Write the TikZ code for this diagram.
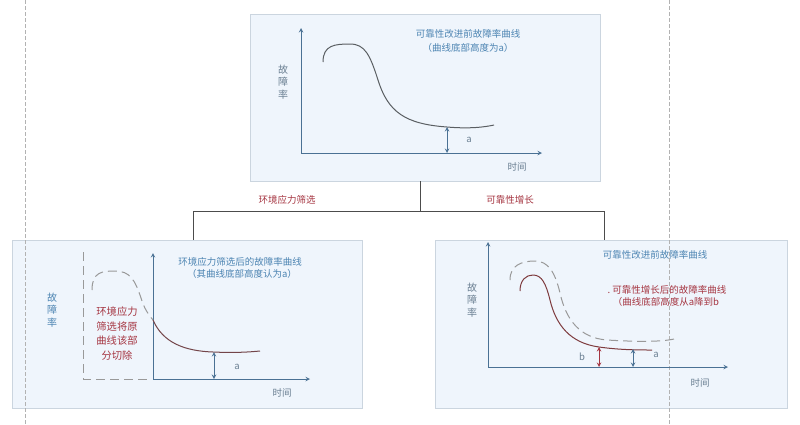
\documentclass[tikz,border=0pt]{standalone}
\usepackage{fontspec}
\newfontfamily\cjk{Noto Sans CJK SC}
\usepackage{tikz}
\usetikzlibrary{positioning}
\usepackage{xcolor}
\definecolor{panelfill}{HTML}{EFF5FC}
\definecolor{paneledge}{HTML}{CBD5DF}
\definecolor{axisblue}{HTML}{4A7194}
\definecolor{textblue}{HTML}{4C84B2}
\definecolor{textgray}{HTML}{6A7F92}
\definecolor{textred}{HTML}{A53541}
\definecolor{curvegray}{HTML}{5A5E62}
\definecolor{curvered}{HTML}{7E3B3E}

\begin{document}
\begin{tikzpicture}[x=1pt,y=-1pt,>=stealth,
  panel/.style={draw=paneledge,fill=panelfill,line width=0.8pt,
    minimum width=350pt,minimum height=168pt,inner sep=0pt},
  link/.style={draw=black!70,line width=0.7pt},
  guide/.style={draw=black!30,line width=0.6pt,dash pattern=on 4pt off 2pt},
  axis/.style={->,draw=axisblue,line width=1pt},
  curve/.style={draw=curvegray,line width=1pt},
  cut/.style={draw=black!40,line width=1pt,dash pattern=on 9pt off 5pt},
  gap/.style={<->,draw=axisblue,line width=1pt},
  lbl/.style={font=\cjk\fontsize{9.5}{12}\selectfont,inner sep=0pt,align=center},
  ylbl/.style={font=\cjk\fontsize{10}{12.5}\selectfont,inner sep=0pt,align=center}]
  \useasboundingbox (0,0) rectangle (800,424);
  \node[panel,minimum height=167pt] (top) at (425,97.5) {};
  \node[panel] (lft) at (187,324) {};
  \node[panel,minimum width=352pt] (rgt) at (611,324) {};
  %tree
  \coordinate (j) at (420,211);
  \coordinate (jl) at (193,211);
  \coordinate (jr) at (604,211);
  \draw[link] (j |- top.south) -- (j);
  \draw[link] (jl |- lft.north) -- (jl) -- (jr) -- (jr |- rgt.north);
  \node[lbl,textred] (screen) at (287,200) {环境应力筛选};
  \node[lbl,textred] (growth) at (510,200) {可靠性增长};
  \foreach \x in {25,669}
  \draw[guide] (\x,0) -- (\x,424);
  %before
  \coordinate (o1) at (301,153);
  \draw[axis] (o1) -- (301,28);
  \draw[axis] (o1) -- (542,153);
  \draw[curve] (323,62) .. controls (323,45) and (335,44) .. (350,44)
        .. controls (365,44) and (370,55) .. (378,80)
        .. controls (388,112) and (405,124) .. (447,127)
        .. controls (470,129) and (485,127) .. (494,125);
  \draw[gap] (447,127) -- (447,153);
  \node[lbl,textgray] (a1) at (469,140) {a};
  \node[lbl,textgray] (t1) at (517,167) {时间};
  \node[ylbl,textgray] (r1) at (283,82) {故\\障\\率};
  \node[lbl,textblue] (h1) at (468,34) {可靠性改进前故障率曲线};
  \node[lbl,textblue] (s1) at (468,48) {（曲线底部高度为a）};
  %screening
  \coordinate (o2) at (153,379);
  \draw[axis] (o2) -- (153,253);
  \draw[axis] (o2) -- (310,379);
  \draw[cut] (83,252) -- (83,379) -- (150,379);
  \draw[cut] (92,290) .. controls (92,272) and (102,271) .. (115,271)
        .. controls (130,271) and (135,280) .. (141,298)
        .. controls (144,308) and (148,314) .. (153,320);
  \draw[curve,draw=curvered!70!curvegray] (153,320) .. controls (163,343) and (185,351) .. (213,352)
        .. controls (235,353) and (250,352) .. (260,351);
  \draw[gap] (214,352) -- (214,379);
  \node[lbl,textgray] (a2) at (237,367) {a};
  \node[lbl,textgray] (t2) at (282,393) {时间};
  \node[ylbl,textblue] (r2) at (52,310) {故\\障\\率};
  \node[lbl,textred,font=\cjk\fontsize{10.3}{14.5}\selectfont] (cutnote) at (117,333.5)
        {环境应力\\筛选将原\\曲线该部\\分切除};
  \node[lbl,textblue] (h2) at (240,262) {环境应力筛选后的故障率曲线};
  \node[lbl,textblue] (s2) at (242,274) {（其曲线底部高度认为a）};
  %growth
  \coordinate (o3) at (488,367);
  \draw[axis] (o3) -- (488,242);
  \draw[axis] (o3) -- (728,367);
  \draw[cut] (510,280) .. controls (510,265) and (522,261) .. (535,261)
        .. controls (548,261) and (555,272) .. (560,293)
        .. controls (566,320) and (580,338) .. (607,340)
        .. controls (640,342) and (665,342) .. (678,338);
  \draw[curve,draw=curvered] (520,291) .. controls (520,280) and (526,275) .. (533,275)
        .. controls (542,275) and (546,284) .. (550,300)
        .. controls (556,325) and (570,343) .. (599,347)
        .. controls (620,350) and (640,350) .. (652,350);
  \draw[gap,draw=textred] (599,347) -- (599,367);
  \draw[gap] (633,349) -- (633,367);
  \node[lbl,textgray] (b3) at (582,357) {b};
  \node[lbl,textgray] (a3) at (656,355) {a};
  \node[lbl,textgray] (t3) at (700,383) {时间};
  \node[ylbl,textgray] (r3) at (472,300) {故\\障\\率};
  \node[lbl,textblue] (h3) at (655,255) {可靠性改进前故障率曲线};
  \node[lbl,textred] (g3) at (667,290) {.\ 可靠性增长后的故障率曲线};
  \node[lbl,textred] (s3) at (666,302) {（曲线底部高度从a降到b};
\end{tikzpicture}
\end{document}
